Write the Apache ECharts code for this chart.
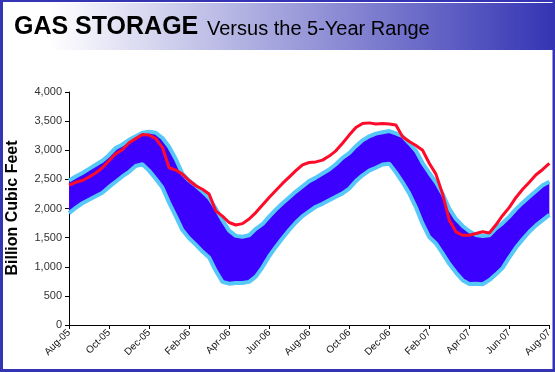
<!DOCTYPE html>
<html>
<head>
<meta charset="utf-8">
<script src="https://cdn.jsdelivr.net/npm/echarts@6/dist/echarts.min.js"></script>
<style>
html,body{margin:0;padding:0;background:#fff;}
#c{width:555px;height:372px;}
</style>
</head>
<body>
<div id="c"></div>
<script>
// Tick labels (every 2 months), 6 samples between each label
var tickLabels = ['Aug-05','Oct-05','Dec-05','Feb-06','Apr-06','Jun-06','Aug-06','Oct-06','Dec-06','Feb-07','Apr-07','Jun-07','Aug-07'];
var stepsPerTick = 6;

// 5-year maximum (upper edge of band)
var rangeMax = [2480,2550,2610,2680,2750,2820,2920,3040,3100,3180,3240,3300,3320,3300,3210,3060,2850,2600,2480,2390,2290,2180,2000,1800,1620,1530,1516,1540,1650,1730,1860,1980,2090,2190,2290,2380,2470,2530,2600,2670,2760,2870,2950,3070,3170,3240,3285,3310,3330,3290,3240,3120,2990,2780,2610,2450,2250,2000,1820,1700,1610,1545,1528,1540,1660,1750,1860,1990,2100,2200,2300,2400,2461];
// 5-year minimum (lower edge of band)
var rangeMin = [1920,2010,2090,2150,2210,2270,2370,2460,2550,2630,2730,2760,2650,2510,2360,2100,1870,1630,1490,1380,1260,1160,930,740,710,720,720,740,830,990,1180,1340,1490,1630,1760,1870,1950,2030,2080,2140,2200,2260,2340,2470,2570,2650,2700,2755,2770,2620,2450,2260,2020,1740,1510,1400,1230,1050,900,770,705,710,700,770,870,980,1160,1330,1470,1600,1710,1800,1890];
// Actual storage
var storage = [2400,2450,2480,2540,2610,2700,2820,2940,3010,3130,3200,3270,3260,3200,3050,2700,2660,2590,2480,2390,2330,2250,1960,1870,1760,1717,1740,1820,1930,2060,2190,2310,2430,2540,2650,2750,2790,2800,2830,2900,2990,3120,3260,3390,3460,3470,3450,3460,3450,3434,3233,3150,3080,3000,2776,2590,2250,1800,1600,1540,1540,1570,1600,1580,1720,1880,2020,2190,2330,2450,2580,2670,2776];

var categories = storage.map(function(v,i){ return (i % stepsPerTick === 0) ? tickLabels[i/stepsPerTick] : ''; });
var bandWidth = rangeMax.map(function(v,i){ return v - rangeMin[i]; });

var chart = echarts.init(document.getElementById('c'), null, {renderer:'canvas'});
var BORDER = '#3434B4';
chart.setOption({
  backgroundColor: '#ffffff',
  animation: false,
  grid: {left: 69, right: 2, top: 92, bottom: 47, containLabel: false},
  xAxis: {
    type: 'category',
    data: categories,
    boundaryGap: false,
    axisLine: {lineStyle: {color: '#000', width: 1}},
    axisTick: {show: true, interval: stepsPerTick - 1, length: 4, inside: false, lineStyle: {color: '#000'}},
    axisLabel: {interval: stepsPerTick - 1, rotate: 45, margin: 6, fontFamily: 'Liberation Sans, Arial', fontSize: 10, color: '#111'},
    splitLine: {show: false}
  },
  yAxis: {
    type: 'value',
    min: 0, max: 4000, interval: 500,
    axisLine: {show: true, lineStyle: {color: '#000', width: 1}},
    axisTick: {show: true, length: 4, inside: false, lineStyle: {color: '#000'}},
    axisLabel: {margin: 7, fontFamily: 'Liberation Sans, Arial', fontSize: 11, color: '#333',
      formatter: function(v){ return v.toLocaleString('en-US'); }},
    splitLine: {show: false}
  },
  series: [
    {type:'line', data: rangeMin, stack:'band', symbol:'none', lineStyle:{opacity:0}, z:1, silent:true},
    {type:'line', data: bandWidth, stack:'band', symbol:'none', lineStyle:{opacity:0},
     areaStyle:{color:'#3C00FF', opacity:1}, z:1, silent:true},
    {type:'line', data: rangeMax, symbol:'none', lineStyle:{color:'#55C8F8', width:4}, z:2},
    {type:'line', data: rangeMin, symbol:'none', lineStyle:{color:'#55C8F8', width:4}, z:2},
    {type:'line', data: storage, symbol:'none', lineStyle:{color:'#FF0A28', width:3}, z:3}
  ],
  graphic: [
    {type:'rect', shape:{x:0, y:3, width:555, height:47}, z:-1,
     style:{fill:new echarts.graphic.LinearGradient(0,0,1,0,[{offset:0,color:'#ffffff'},{offset:0.09,color:'#ffffff'},{offset:1,color:BORDER}])}},
    {type:'rect', shape:{x:0, y:0, width:555, height:2}, style:{fill:BORDER}},
    {type:'rect', shape:{x:0, y:0, width:3, height:372}, style:{fill:BORDER}},
    {type:'rect', shape:{x:552.5, y:0, width:2.5, height:372}, style:{fill:BORDER}},
    {type:'rect', shape:{x:0, y:369, width:555, height:3}, style:{fill:BORDER}},
    {type:'text', x:14, y:40, style:{text:'GAS STORAGE', fontFamily:'Liberation Sans, Arial', fontWeight:'bold', fontSize:25, fill:'#000', verticalAlign:'bottom'}},
    {type:'text', x:207, y:39, style:{text:'Versus the 5-Year Range', fontFamily:'Liberation Sans, Arial', fontSize:20, fill:'#000', verticalAlign:'bottom'}},
    {type:'text', x:13, y:208, rotation:Math.PI/2, style:{text:'Billion Cubic Feet', fontFamily:'Liberation Sans, Arial', fontWeight:'bold', fontSize:16, fill:'#000', align:'center', verticalAlign:'middle'}}
  ]
});
</script>
</body>
</html>
